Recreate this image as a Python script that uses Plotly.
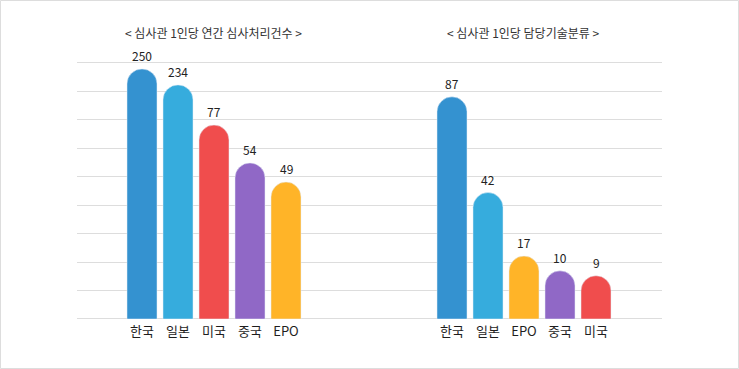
import plotly.graph_objects as go

# ---- data ----
left_title = "< 심사관 1인당 연간 심사처리건수 >"
left_categories = ["한국", "일본", "미국", "중국", "EPO"]
left_values = [250, 234, 77, 54, 49]
# displayed bar heights (in gridline units, as drawn in the infographic)
left_heights = [8.78, 8.22, 6.81, 5.48, 4.81]

right_title = "< 심사관 1인당 담당기술분류 >"
right_categories = ["한국", "일본", "EPO", "중국", "미국"]
right_values = [87, 42, 17, 10, 9]
right_heights = [7.80, 4.44, 2.21, 1.69, 1.52]

# ---- styles ----
country_colors = {
    "한국": "#3492D0",
    "일본": "#36ACDD",
    "미국": "#F04D4D",
    "중국": "#9068C6",
    "EPO": "#FFB428",
}
FONT = "Noto Sans CJK KR"
W, H = 739, 369

fig = go.Figure()
fig.add_trace(go.Bar(
    x=left_categories, y=left_heights,
    marker=dict(color=[country_colors[c] for c in left_categories], cornerradius="50%"),
    xaxis="x", yaxis="y", hoverinfo="skip",
))
fig.add_trace(go.Bar(
    x=right_categories, y=right_heights,
    marker=dict(color=[country_colors[c] for c in right_categories], cornerradius="50%"),
    xaxis="x2", yaxis="y2", hoverinfo="skip",
))

pitch = 36.0
x0_px, xmid_px, x1_px = 77.0, 369.0, 662.0
l_first = 142.0
r_first = 452.0
l_r0 = -(l_first - x0_px) / pitch
l_r1 = l_r0 + (xmid_px - x0_px) / pitch
r_r0 = -(r_first - xmid_px) / pitch
r_r1 = r_r0 + (x1_px - xmid_px) / pitch

base_px, grid_px = 319.0, 28.48
ytop = 9.3
y_dom = [(H - base_px) / H, (H - (base_px - ytop * grid_px)) / H]

yax = dict(range=[0, ytop], dtick=1, showgrid=True, gridcolor="#DDDDDD", gridwidth=1,
           zeroline=True, zerolinecolor="#DDDDDD", zerolinewidth=1,
           showticklabels=False, domain=y_dom, fixedrange=True)
xax = dict(type="category", showgrid=False, zeroline=False, showline=False, ticks="",
           ticklabelstandoff=3,
           tickfont=dict(size=13, color="#1E1E1E", family=FONT), fixedrange=True)

annotations = []
for cats, vals, hts, xr, yr in [(left_categories, left_values, left_heights, "x", "y"),
                                (right_categories, right_values, right_heights, "x2", "y2")]:
    for c, v, h in zip(cats, vals, hts):
        annotations.append(dict(text=str(v), x=c, y=h, xref=xr, yref=yr,
                                showarrow=False, xanchor="center", yanchor="bottom",
                                yshift=3, font=dict(size=12, color="#222222", family=FONT)))

annotations += [
    dict(text=left_title, x=213 / W, y=(H - 32) / H, xref="paper", yref="paper",
         showarrow=False, xanchor="center", yanchor="middle",
         font=dict(size=12, color="#333333", family=FONT)),
    dict(text=right_title, x=523 / W, y=(H - 32) / H, xref="paper", yref="paper",
         showarrow=False, xanchor="center", yanchor="middle",
         font=dict(size=12, color="#333333", family=FONT)),
]

fig.update_layout(
    width=W, height=H,
    margin=dict(l=0, r=0, t=0, b=0),
    paper_bgcolor="white", plot_bgcolor="rgba(0,0,0,0)",
    showlegend=False, bargap=1 - 30 / 36,
    font=dict(family=FONT),
    xaxis=dict(xax, domain=[x0_px / W, xmid_px / W], range=[l_r0, l_r1], anchor="y"),
    xaxis2=dict(xax, domain=[xmid_px / W, x1_px / W], range=[r_r0, r_r1], anchor="y2"),
    yaxis=dict(yax, anchor="x"),
    yaxis2=dict(yax, anchor="x2"),
    annotations=annotations,
    shapes=[dict(type="rect", xref="paper", yref="paper",
                 x0=0.5 / W, x1=1 - 0.5 / W, y0=0.5 / H, y1=1 - 0.5 / H,
                 line=dict(color="#DDDDDD", width=1), fillcolor="rgba(0,0,0,0)")],
)

fig.write_html("out.html", config={"displayModeBar": False},
               post_script="document.body.style.margin='0';document.body.style.padding='0';")
